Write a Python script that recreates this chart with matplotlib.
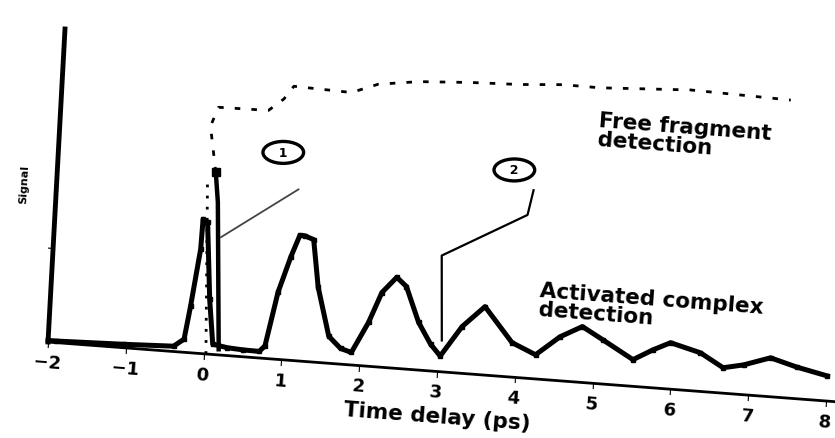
import numpy as np
import matplotlib
matplotlib.use("Agg")
import matplotlib.pyplot as plt
from matplotlib.transforms import Affine2D
from mpl_toolkits.axisartist import floating_axes
from mpl_toolkits.axisartist.grid_finder import FixedLocator

# activated complex trace (time in ps, signal in fraction of axis height)
t_complex = [-2.0, -1.9, -1.03, -0.39, -0.26, -0.20, -0.11, -0.10, -0.04, 0.04, 0.11,
             0.30, 0.50, 0.71, 0.78, 0.91, 1.05, 1.15, 1.21, 1.33, 1.42, 1.59, 1.75,
             1.89, 2.09, 2.24, 2.42, 2.55, 2.73, 2.90, 3.03, 3.29, 3.57, 3.94, 4.25,
             4.55, 4.83, 5.10, 5.50, 5.75, 5.97, 6.36, 6.66, 6.92, 7.26, 7.60, 8.0]
s_complex = [0.005, 0.005, 0.011, 0.017, 0.042, 0.148, 0.333, 0.428, 0.420, 0.175, 0.033,
             0.025, 0.022, 0.021, 0.040, 0.214, 0.330, 0.400, 0.400, 0.390, 0.240, 0.086, 0.050,
             0.040, 0.140, 0.238, 0.290, 0.263, 0.152, 0.085, 0.050, 0.149, 0.218, 0.110, 0.077,
             0.140, 0.178, 0.141, 0.085, 0.121, 0.148, 0.123, 0.081, 0.095, 0.124, 0.101, 0.080]

# free fragment trace
t_free = [0.19, 0.077, 0.03, -0.07, 0.02, 0.66, 0.85, 0.97, 1.71, 2.05, 2.57, 3.25,
          3.85, 4.41, 4.89, 6.05, 7.34]
s_free = [0.018, 0.486, 0.58, 0.726, 0.788, 0.79, 0.83, 0.873, 0.867, 0.90, 0.918, 0.928,
          0.933, 0.943, 0.942, 0.957, 0.949]

# time zero marker
t_zero = [0.03, -0.07]
s_zero = [0.0, 0.55]

# leader lines for the two labels
lead1_t = [0.14, 1.10]
lead1_s = [0.375, 0.546]
lead2_t = [4.11, 4.05, 2.98, 3.04]
lead2_s = [0.60, 0.52, 0.37, 0.10]

x_ticks = list(range(-2, 9))
y_ticks = [0.3]

fig = plt.figure(figsize=(8.35, 4.39), dpi=100)
W, H = 835, 439

# the scan is slightly tilted, so the axes is an affine frame in pixel units
tr = Affine2D(np.array([[77.8, 17.0, 203.6],
                        [-5.9, 313.0, 84.2],
                        [0.0, 0.0, 1.0]]))
x0, x1, y0, y1 = -2.0, 8.1, 0.0, 1.0
corners = tr.transform([[x0, y0], [x1, y0], [x0, y1], [x1, y1]])
cx0, cy0 = corners.min(axis=0)
cx1, cy1 = corners.max(axis=0)
# floating axes pads its limits by 2 %
mx, my = (cx0 + cx1) / 2, (cy0 + cy1) / 2
hw, hh = (cx1 - cx0) * 1.02 / 2, (cy1 - cy0) * 1.02 / 2
rect = [(mx - hw) / W, (my - hh) / H, 2 * hw / W, 2 * hh / H]

gh = floating_axes.GridHelperCurveLinear(
    tr, extremes=(x0, x1, y0, y1),
    grid_locator1=FixedLocator(x_ticks),
    grid_locator2=FixedLocator(y_ticks))
ax = fig.add_axes(rect, axes_class=floating_axes.FloatingAxes, grid_helper=gh)
ax.set_aspect("auto")
ax.patch.set_visible(False)

ax.axis["top"].set_visible(False)
ax.axis["right"].set_visible(False)
ax.axis["bottom"].line.set_linewidth(2)
ax.axis["left"].line.set_linewidth(3.5)
for side in ["bottom", "left"]:
    ax.axis[side].major_ticks.set_tick_out(True)
    ax.axis[side].major_ticks.set_ticksize(4)
    ax.axis[side].major_ticks.set_linewidth(1.5)
ax.axis["bottom"].major_ticklabels.set(fontsize=13, fontweight="bold")
ax.axis["left"].major_ticklabels.set_visible(False)
ax.axis["bottom"].label.set_text("Time delay (ps)")
ax.axis["bottom"].label.set(fontsize=15.5, fontweight="bold")
ax.axis["left"].label.set_text("Signal")
ax.axis["left"].label.set(fontsize=8, fontweight="bold")
ax.axis["left"].label.set_pad(12)

aux = ax.get_aux_axes(tr)

aux.plot(t_complex, s_complex, color="black", lw=3.6, marker="s", ms=3.5,
         solid_joinstyle="round")
aux.plot(t_free[:3], s_free[:3], color="black", lw=3.2)
aux.plot(t_free[2:3], s_free[2:3], color="black", marker="s", ms=6)
aux.plot(t_free[2:], s_free[2:], color="black", lw=2, linestyle=(0, (2, 4)))
aux.plot(t_zero, s_zero, color="black", lw=2, linestyle=(0, (1, 3)))
aux.plot(lead1_t, lead1_s, color="#444444", lw=1.3)
aux.plot(lead2_t, lead2_s, color="black", lw=1.6)

circ = dict(boxstyle="ellipse,pad=0.1", fc="white", ec="black", lw=2.4)
aux.text(0.88, 0.66, "  1  ", fontsize=9, fontweight="bold", ha="center", va="center",
         bbox=circ)
aux.text(3.85, 0.66, "  2  ", fontsize=9, fontweight="bold", ha="center", va="center",
         bbox=circ)

aux.text(4.90, 0.872, "Free fragment\ndetection", fontsize=15.5, fontweight="bold",
         ha="left", va="top", rotation=-4.3, rotation_mode="anchor", linespacing=0.95)
aux.text(4.26, 0.317, "Activated complex\ndetection", fontsize=15.5, fontweight="bold",
         ha="left", va="top", rotation=-4.3, rotation_mode="anchor", linespacing=0.95)

fig.savefig("out.png", dpi=100)
